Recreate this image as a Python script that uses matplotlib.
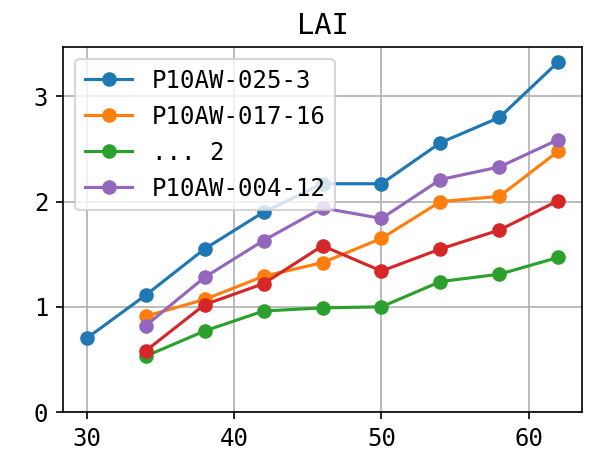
import matplotlib
matplotlib.use("Agg")
import matplotlib.pyplot as plt

plt.rcParams["font.family"] = ["DejaVu Sans Mono", "Noto Sans CJK JP"]
plt.rcParams["font.size"] = 11.5

DAYS = [30, 34, 38, 42, 46, 50, 54, 58, 62]
DAYS_B = [34, 38, 42, 46, 50, 54, 58, 62]

LAI_025_3 = [0.70, 1.11, 1.55, 1.90, 2.17, 2.17, 2.56, 2.80, 3.33]
LAI_017_16 = [0.91, 1.07, 1.29, 1.42, 1.65, 2.00, 2.05, 2.48]
LAI_DOTS_2 = [0.53, 0.77, 0.96, 0.99, 1.00, 1.24, 1.31, 1.47]
LAI_004_12 = [0.82, 1.28, 1.63, 1.94, 1.84, 2.21, 2.33, 2.59]
LAI_RED = [0.58, 1.02, 1.22, 1.58, 1.34, 1.55, 1.73, 2.01]

fig = plt.figure(figsize=(589 / 150, 454 / 150), dpi=150)
ax = fig.add_axes([63 / 589, 42 / 454, (582 - 63) / 589, (412 - 47) / 454])

ax.plot(DAYS, LAI_025_3, marker="o", color="#1f77b4", label="P10AW-025-3")
ax.plot(DAYS_B, LAI_017_16, marker="o", color="#ff7f0e", label="P10AW-017-16")
ax.plot(DAYS_B, LAI_DOTS_2, marker="o", color="#2ca02c", label="... 2")
ax.plot(DAYS_B, LAI_RED, marker="o", color="#d62728")
ax.plot(DAYS_B, LAI_004_12, marker="o", color="#9467bd", label="P10AW-004-12")

ax.set_ylim(bottom=0)
ax.set_yticks([0, 1, 2, 3])
ax.set_xticks([30, 40, 50, 60])
ax.grid(True)
ax.set_title("LAI")
ax.legend(loc="upper left")

fig.savefig("out.png", dpi=150)
